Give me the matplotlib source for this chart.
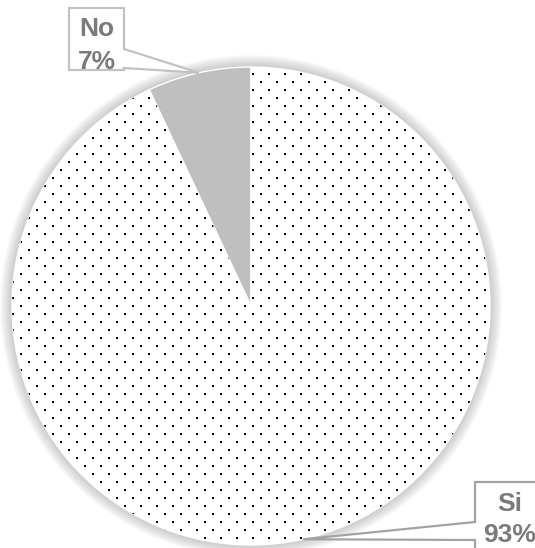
import numpy as np
import matplotlib.pyplot as plt
from matplotlib.patches import Circle, Polygon

# donnees
categories = ["No", "Si"]
valeurs = [7, 93]
couleurs = ["#bfbfbf", "white"]

W, H = 535, 548
plt.rcParams['font.family'] = ['Liberation Sans', 'DejaVu Sans']

fig = plt.figure(figsize=(W / 100, H / 100), dpi=100)
ax = fig.add_axes([0, 0, 1, 1])

cx, cy, r = 251, H - 306, 239

# halo gris autour du camembert
for k in range(12, 0, -1):
    ax.add_patch(Circle((cx, cy), r + k, facecolor="#909090", edgecolor="none",
                        alpha=0.045, zorder=0))

wedges, _ = ax.pie(valeurs, colors=couleurs, startangle=90, counterclock=True,
                   radius=r, center=(cx, cy),
                   wedgeprops=dict(edgecolor="white", linewidth=1))
for w in wedges:
    w.set_zorder(1)

# trame de points sur la part "Si"
xs, ys = [], []
for j, y in enumerate(np.arange(0, H + 8, 8)):
    dec = 8 if j % 2 else 0
    for x in np.arange(dec + 5, W + 16, 16):
        xs.append(x)
        ys.append(y + 2)
pts = ax.scatter(xs, ys, s=3.2, marker="s", color="black", linewidths=0, zorder=2)
pts.set_clip_path(wedges[1])

# bulles des etiquettes
total = sum(valeurs)
debut = 90.0
boites = {
    "No": dict(box=(69, 8, 124, 70), base=(49, 68), side="right", bord="#c2c2c2",
               lignes=[(36, "No"), (69, "{}%")]),
    "Si": dict(box=(475, 482, 545, 560), base=(522, 540), side="left", bord="#a3a3a3",
               lignes=[(511, "Si"), (542, "{}%")]),
}
for cat, v in zip(categories, valeurs):
    ang = np.deg2rad(debut + 360 * v / total / 2)
    debut += 360 * v / total
    tx, ty = cx + r * np.cos(ang), cy + r * np.sin(ang)
    b = boites[cat]
    x0, y0, x1, y1 = b["box"]
    b0, b1 = b["base"]
    if b["side"] == "right":
        pts_img = [(x0, y0), (x1, y0), (x1, b0), None, (x1, b1), (x1, y1), (x0, y1)]
    else:
        pts_img = [(x0, y0), (x1, y0), (x1, y1), (x0, y1), (x0, b1), None, (x0, b0)]
    poly = [(tx, ty) if p is None else (p[0], H - p[1]) for p in pts_img]
    ax.add_patch(Polygon(poly, closed=True, facecolor="white", edgecolor=b["bord"],
                         linewidth=1.6, zorder=3, clip_on=False))
    xc = (x0 + x1) / 2
    for base_y, txt in b["lignes"]:
        ax.text(xc, H - base_y, txt.format(v) if "{}" in txt else txt,
                ha="center", va="baseline", fontsize=19, fontweight="bold",
                color="#7a7a7a", zorder=4)

ax.set_xlim(0, W)
ax.set_ylim(0, H)
ax.axis("off")

fig.savefig("out.png", dpi=100)
